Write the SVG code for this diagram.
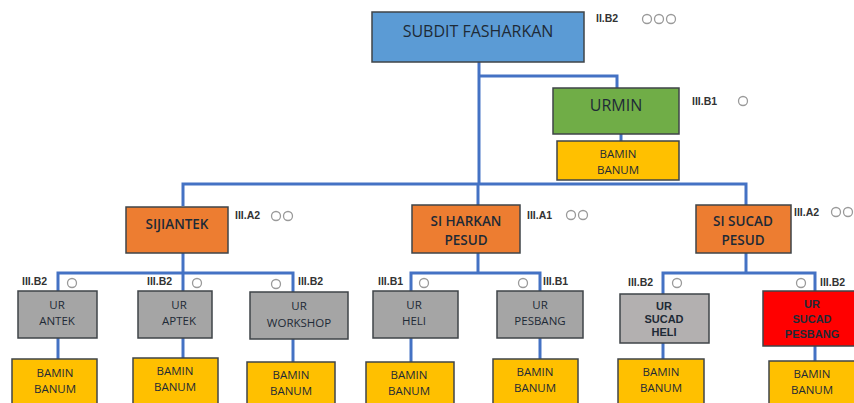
<svg xmlns="http://www.w3.org/2000/svg" width="854" height="403" viewBox="0 0 854 403">
  <style>
    .box { stroke: #3f4448; stroke-width: 1.5; }
    .blue { fill: #5b9bd5; }
    .green { fill: #70ad47; }
    .orange { fill: #ed7d31; }
    .gold { fill: #ffc000; }
    .grey { fill: #a5a5a5; }
    .grey2 { fill: #b3b0b0; }
    .red { fill: #ff0000; }
    .t { font-family: "Open Sans", "Liberation Sans", sans-serif; fill: #1e2a36; text-anchor: middle; }
    .big { font-size: 16px; }
    .mid { font-size: 13.5px; font-weight: 600; }
    .sm { font-size: 11.5px; }
    .smb { font-family: "Liberation Sans", Arial, sans-serif; font-size: 11px; font-weight: 700; }
    .lbl { font-family: "Liberation Sans", Arial, sans-serif; font-size: 10.5px; font-weight: 700; fill: #333; }
    .rank { fill: none; stroke: #9a9a9a; stroke-width: 1.3; }
    .conn { fill: none; stroke: #4472c4; stroke-width: 3; }
  </style>

  <!-- connectors -->
  <g id="connectors" class="conn">
    <path d="M479 62 V184"/>
    <path d="M479 76 H617 V88"/>
    <path d="M621 134 V142"/>
    <path d="M183 206 V184 H746 V205"/>
    <path d="M478 184 V205"/>
    <!-- SIJIANTEK branch -->
    <path d="M183 253 V273"/>
    <path d="M58 291 V273 H293 V292"/>
    <path d="M183 273 V291"/>
    <path d="M58 338 V359"/>
    <path d="M183 338 V358"/>
    <path d="M293 339 V362"/>
    <!-- SI HARKAN PESUD branch -->
    <path d="M478 253 V273"/>
    <path d="M411 291 V273 H540 V291"/>
    <path d="M411 338 V362"/>
    <path d="M540 338 V359"/>
    <!-- SI SUCAD PESUD branch -->
    <path d="M746 253 V273"/>
    <path d="M663 294 V273 H815 V291"/>
    <path d="M663 343 V359"/>
    <path d="M815 346 V361"/>
  </g>

  <g id="subdit">
    <rect class="box blue" x="372" y="12" width="212" height="50"/>
    <text class="t big" x="478" y="37">SUBDIT FASHARKAN</text>
    <text class="lbl" x="596" y="22">II.B2</text>
    <circle class="rank" cx="647" cy="19" r="4.5"/>
    <circle class="rank" cx="659" cy="19" r="4.5"/>
    <circle class="rank" cx="671" cy="19" r="4.5"/>
  </g>

  <g id="urmin">
    <rect class="box green" x="553" y="88" width="126" height="46"/>
    <text class="t" x="616" y="111" font-size="16">URMIN</text>
    <text class="lbl" x="692" y="105">III.B1</text>
    <circle class="rank" cx="743" cy="101" r="4.5"/>
  </g>

  <g id="urmin-bamin">
    <rect class="box gold" x="557" y="141" width="122" height="39"/>
    <text class="t sm" x="618" y="158">BAMIN</text>
    <text class="t sm" x="618" y="174">BANUM</text>
  </g>

  <g id="sijiantek">
    <rect class="box orange" x="126" y="207" width="102" height="46"/>
    <text class="t mid" x="177" y="229">SIJIANTEK</text>
    <text class="lbl" x="235" y="219">III.A2</text>
    <circle class="rank" cx="276" cy="216" r="4.5"/>
    <circle class="rank" cx="288" cy="216" r="4.5"/>
  </g>

  <g id="siharkan">
    <rect class="box orange" x="412" y="205" width="108" height="48"/>
    <text class="t mid" x="466" y="226">SI HARKAN</text>
    <text class="t mid" x="466" y="245">PESUD</text>
    <text class="lbl" x="527" y="219">III.A1</text>
    <circle class="rank" cx="571" cy="215" r="4.5"/>
    <circle class="rank" cx="583" cy="215" r="4.5"/>
  </g>

  <g id="sisucad">
    <rect class="box orange" x="696" y="205" width="95" height="48"/>
    <text class="t mid" x="743" y="226">SI SUCAD</text>
    <text class="t mid" x="743" y="245">PESUD</text>
    <text class="lbl" x="794" y="216">III.A2</text>
    <circle class="rank" cx="836" cy="212" r="4.5"/>
    <circle class="rank" cx="848" cy="212" r="4.5"/>
  </g>

  <!-- third level -->
  <g id="ur-antek">
    <rect class="box grey" x="18" y="291" width="79" height="47"/>
    <text class="t sm" x="57" y="309">UR</text>
    <text class="t sm" x="57" y="325">ANTEK</text>
    <text class="lbl" x="22" y="285">III.B2</text>
    <circle class="rank" cx="72" cy="283" r="4.5"/>
  </g>
  <g id="ur-antek-bamin">
    <rect class="box gold" x="12" y="359" width="85" height="50"/>
    <text class="t sm" x="55" y="377">BAMIN</text>
    <text class="t sm" x="55" y="393">BANUM</text>
  </g>

  <g id="ur-aptek">
    <rect class="box grey" x="138" y="291" width="74" height="47"/>
    <text class="t sm" x="179" y="309">UR</text>
    <text class="t sm" x="179" y="325">APTEK</text>
    <text class="lbl" x="147" y="285">III.B2</text>
    <circle class="rank" cx="197" cy="283" r="4.5"/>
  </g>
  <g id="ur-aptek-bamin">
    <rect class="box gold" x="133" y="358" width="85" height="50"/>
    <text class="t sm" x="175" y="375">BAMIN</text>
    <text class="t sm" x="175" y="391">BANUM</text>
  </g>

  <g id="ur-workshop">
    <rect class="box grey" x="250" y="292" width="98" height="47"/>
    <text class="t sm" x="299" y="310">UR</text>
    <text class="t sm" x="299" y="327">WORKSHOP</text>
    <text class="lbl" x="298" y="285">III.B2</text>
    <circle class="rank" cx="276" cy="284" r="4.5"/>
  </g>
  <g id="ur-workshop-bamin">
    <rect class="box gold" x="247" y="362" width="88" height="50"/>
    <text class="t sm" x="291" y="379">BAMIN</text>
    <text class="t sm" x="291" y="395">BANUM</text>
  </g>

  <g id="ur-heli">
    <rect class="box grey" x="373" y="291" width="85" height="47"/>
    <text class="t sm" x="414" y="309">UR</text>
    <text class="t sm" x="414" y="325">HELI</text>
    <text class="lbl" x="378" y="285">III.B1</text>
    <circle class="rank" cx="424" cy="283" r="4.5"/>
  </g>
  <g id="ur-heli-bamin">
    <rect class="box gold" x="366" y="362" width="88" height="50"/>
    <text class="t sm" x="409" y="379">BAMIN</text>
    <text class="t sm" x="409" y="395">BANUM</text>
  </g>

  <g id="ur-pesbang">
    <rect class="box grey" x="497" y="291" width="86" height="47"/>
    <text class="t sm" x="540" y="309">UR</text>
    <text class="t sm" x="540" y="325">PESBANG</text>
    <text class="lbl" x="543" y="285">III.B1</text>
    <circle class="rank" cx="523" cy="283" r="4.5"/>
  </g>
  <g id="ur-pesbang-bamin">
    <rect class="box gold" x="493" y="359" width="85" height="50"/>
    <text class="t sm" x="535" y="376">BAMIN</text>
    <text class="t sm" x="535" y="392">BANUM</text>
  </g>

  <g id="ur-sucad-heli">
    <rect class="box grey2" x="620" y="294" width="89" height="49" stroke-width="2"/>
    <text class="t smb" x="664" y="310">UR</text>
    <text class="t smb" x="664" y="323">SUCAD</text>
    <text class="t smb" x="664" y="336">HELI</text>
    <text class="lbl" x="628" y="286">III.B2</text>
    <circle class="rank" cx="677" cy="283" r="4.5"/>
  </g>
  <g id="ur-sucad-heli-bamin">
    <rect class="box gold" x="618" y="359" width="86" height="50"/>
    <text class="t sm" x="661" y="376">BAMIN</text>
    <text class="t sm" x="661" y="392">BANUM</text>
  </g>

  <g id="ur-sucad-pesbang">
    <rect class="box red" x="763" y="291" width="95" height="55"/>
    <text class="t smb" x="812" y="308" font-size="12.5">UR</text>
    <text class="t smb" x="812" y="323" font-size="12.5">SUCAD</text>
    <text class="t smb" x="812" y="338" font-size="12.5">PESBANG</text>
    <text class="lbl" x="820" y="286">III.B2</text>
    <circle class="rank" cx="801" cy="283" r="4.5"/>
  </g>
  <g id="ur-sucad-pesbang-bamin">
    <rect class="box gold" x="769" y="361" width="89" height="50"/>
    <text class="t sm" x="812" y="378">BAMIN</text>
    <text class="t sm" x="812" y="394">BANUM</text>
  </g>
</svg>
